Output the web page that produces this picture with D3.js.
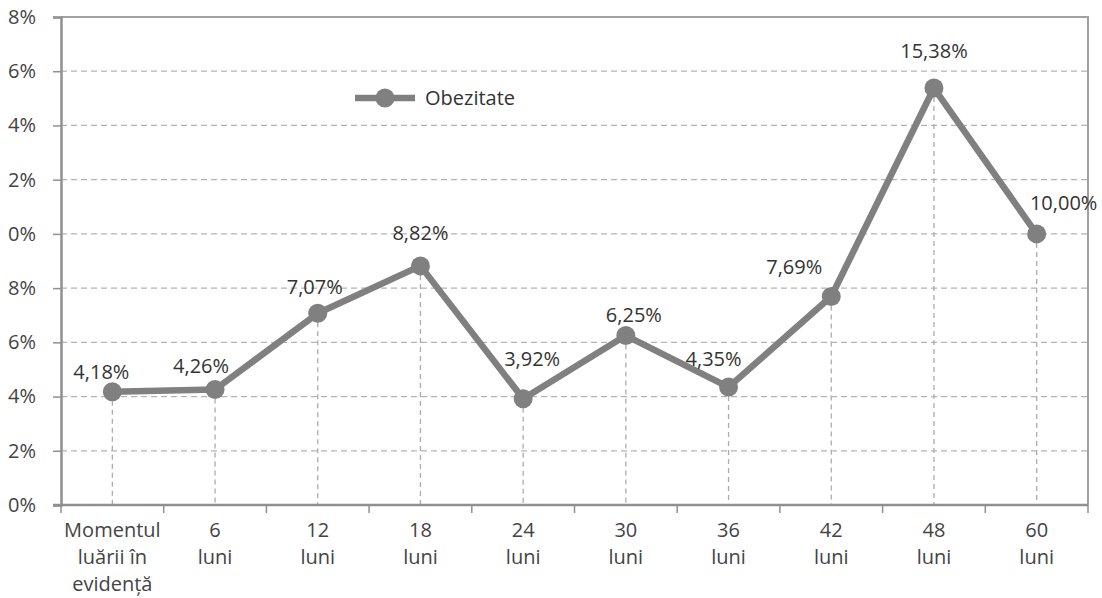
<!DOCTYPE html>
<html>
<head>
<meta charset="utf-8">
<script src="https://cdn.jsdelivr.net/npm/d3@7"></script>
<style>
  body { margin: 0; background: #fff; }
  svg { display: block; font-family: "Open Sans", sans-serif; }
</style>
</head>
<body>
<svg id="chart"></svg>
<script>
const categories = [
  ["Momentul", "luării în", "evidență"],
  ["6", "luni"], ["12", "luni"], ["18", "luni"], ["24", "luni"],
  ["30", "luni"], ["36", "luni"], ["42", "luni"], ["48", "luni"], ["60", "luni"]
];
const obezitate = [4.18, 4.26, 7.07, 8.82, 3.92, 6.25, 4.35, 7.69, 15.38, 10.00];
const yTicks = [0, 2, 4, 6, 8, 10, 12, 14, 16, 18];
const seriesName = "Obezitate";

// label nudges (as placed in the original)
const labelDx = [-11, -14, -3, 0, 9, 8, -15, -37, 0, 27];
const labelDy = [-13, -17, -19, -26, -33, -14, -21, -23, -30, -24];

const width = 1102;
const height = 598;
const plotLeft = 61, plotRight = 1088, plotTop = 17, plotBottom = 505;
const fontSize = 20;
const grey = "#808080";

const svg = d3.select("#chart")
  .attr("width", width)
  .attr("height", height);

// the original picture is cut on the left, hiding the leading "1" of the tick labels
svg.append("clipPath")
  .attr("id", "leftcut")
  .append("rect")
  .attr("x", 6).attr("y", 0)
  .attr("width", width).attr("height", height);

const x = d3.scaleBand()
  .domain(d3.range(categories.length))
  .range([plotLeft, plotRight]);

const y = d3.scaleLinear()
  .domain([0, 18])
  .range([plotBottom, plotTop]);

// horizontal gridlines
svg.append("g")
  .selectAll("line")
  .data(yTicks.slice(1, -1))
  .join("line")
  .attr("x1", plotLeft)
  .attr("x2", plotRight)
  .attr("y1", d => y(d))
  .attr("y2", d => y(d))
  .attr("stroke", "#b4b4b4")
  .attr("stroke-width", 1.3)
  .attr("stroke-dasharray", "6,4");

// plot border (top and right)
svg.append("path")
  .attr("d", `M${plotLeft},${y(18)}H${plotRight}V${plotBottom}`)
  .attr("fill", "none")
  .attr("stroke", "#a0a0a0")
  .attr("stroke-width", 2);

// drop lines
svg.append("g")
  .selectAll("line")
  .data(obezitate)
  .join("line")
  .attr("x1", (d, i) => x(i) + x.bandwidth() / 2)
  .attr("x2", (d, i) => x(i) + x.bandwidth() / 2)
  .attr("y1", d => y(d))
  .attr("y2", plotBottom)
  .attr("stroke", "#acacac")
  .attr("stroke-width", 1.3)
  .attr("stroke-dasharray", "5,4");

// y axis
const yAxis = d3.axisLeft(y)
  .tickValues(yTicks)
  .tickFormat(d => d + "%")
  .tickSize(8)
  .tickPadding(17);

const yg = svg.append("g")
  .attr("clip-path", "url(#leftcut)")
  .append("g")
  .attr("transform", `translate(${plotLeft},0)`)
  .call(yAxis);
yg.select(".domain").attr("stroke", "#909090").attr("stroke-width", 2.5);
yg.selectAll(".tick line").attr("stroke", "#909090").attr("stroke-width", 1.5);
yg.selectAll(".tick text")
  .attr("font-size", fontSize)
  .attr("fill", "#444")
  .attr("font-family", "'Open Sans', sans-serif");

// x axis
const xg = svg.append("g")
  .attr("transform", `translate(0,${plotBottom})`);
xg.append("line")
  .attr("x1", plotLeft - 8).attr("x2", plotRight)
  .attr("stroke", "#909090").attr("stroke-width", 2.5);
xg.selectAll(".xtick")
  .data(d3.range(categories.length + 1))
  .join("line")
  .attr("class", "xtick")
  .attr("x1", i => i < categories.length ? x(i) : plotRight)
  .attr("x2", i => i < categories.length ? x(i) : plotRight)
  .attr("y1", 0)
  .attr("y2", 8)
  .attr("stroke", "#909090")
  .attr("stroke-width", 1.5);

xg.selectAll(".xlabel")
  .data(categories)
  .join("text")
  .attr("class", "xlabel")
  .attr("text-anchor", "middle")
  .attr("font-size", fontSize)
  .attr("fill", "#444")
  .attr("transform", (d, i) => `translate(${x(i) + x.bandwidth() / 2},0)`)
  .selectAll("tspan")
  .data(d => d)
  .join("tspan")
  .attr("x", 0)
  .attr("y", (d, j) => 32 + j * 27)
  .text(d => d);

// series line
const line = d3.line()
  .x((d, i) => x(i) + x.bandwidth() / 2)
  .y(d => y(d));

svg.append("path")
  .datum(obezitate)
  .attr("d", line)
  .attr("fill", "none")
  .attr("stroke", grey)
  .attr("stroke-width", 6.5)
  .attr("stroke-linejoin", "round");

svg.append("g")
  .selectAll("circle")
  .data(obezitate)
  .join("circle")
  .attr("cx", (d, i) => x(i) + x.bandwidth() / 2)
  .attr("cy", d => y(d))
  .attr("r", 9.5)
  .attr("fill", grey);

// data labels
svg.append("g")
  .selectAll("text")
  .data(obezitate)
  .join("text")
  .attr("x", (d, i) => x(i) + x.bandwidth() / 2 + labelDx[i])
  .attr("y", (d, i) => y(d) + labelDy[i])
  .attr("text-anchor", "middle")
  .attr("font-size", fontSize)
  .attr("fill", "#333")
  .text(d => d.toFixed(2).replace(".", ",") + "%");

// legend
const legend = svg.append("g").attr("transform", "translate(355,98)");
legend.append("line")
  .attr("x1", 0).attr("x2", 60)
  .attr("stroke", grey).attr("stroke-width", 6.5);
legend.append("circle")
  .attr("cx", 30).attr("r", 9.5).attr("fill", grey);
legend.append("text")
  .attr("x", 70).attr("y", 7)
  .attr("font-size", fontSize)
  .attr("fill", "#333")
  .text(seriesName);
</script>
</body>
</html>
